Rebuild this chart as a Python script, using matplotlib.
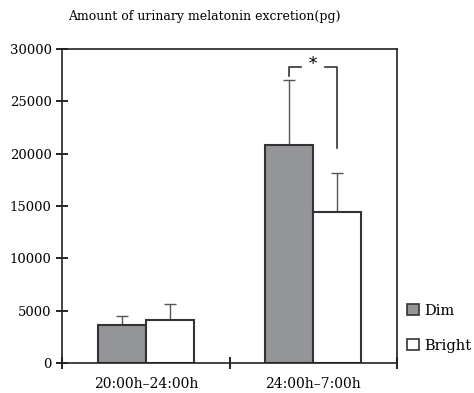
import numpy as np
import matplotlib
matplotlib.use('Agg')
from matplotlib import pyplot as plt
from matplotlib.patches import Patch

plt.rcParams['font.family'] = ['DejaVu Serif']

periods = ['20:00h\u201324:00h', '24:00h\u20137:00h']
dim_mean = [3600, 20800]
dim_err = [900, 6200]
bright_mean = [4150, 14400]
bright_err = [1500, 3800]

grey = '#939598'
edge = '#333333'

fig = plt.figure(figsize=(4.74, 3.93), dpi=100)
ax = fig.add_axes([0.1308, 0.0763, 0.7068, 0.799])

x = np.array([0.5, 1.5])
w = 0.287
ax.bar(x - w/2, dim_mean, w, color=grey, edgecolor=edge, linewidth=1.5, zorder=2)
ax.bar(x + w/2, bright_mean, w, color='white', edgecolor=edge, linewidth=1.5, zorder=2)
ax.errorbar(x - w/2, dim_mean, yerr=[np.zeros(2), dim_err], fmt='none',
            ecolor='#555555', elinewidth=1, capsize=4, capthick=1, zorder=1)
ax.errorbar(x + w/2, bright_mean, yerr=[np.zeros(2), bright_err], fmt='none',
            ecolor='#555555', elinewidth=1, capsize=4, capthick=1, zorder=1)

# significance bracket
bl = x[1] - w/2
br = x[1] + w/2
ax.plot([bl, bl, bl + 0.072], [27400, 28300, 28300], color='#333333', lw=1.2)
ax.plot([br - 0.072, br, br], [28300, 28300, 20550], color='#333333', lw=1.2)
ax.text(x[1], 28500, '*', ha='center', va='center', fontsize=12)

ax.set_xlim(0, 2)
ax.set_ylim(0, 30000)
ax.set_yticks(np.arange(0, 30001, 5000))
ax.set_xticks([0, 1, 2])
ax.set_xticklabels([])
ax.set_xticks(x, minor=True)
ax.set_xticklabels(periods, minor=True)
ax.tick_params(axis='both', which='major', direction='inout', length=8, width=1.2, labelsize=9.5)
ax.tick_params(axis='x', which='minor', length=0, pad=10, labelsize=10)
for s in ax.spines.values():
    s.set_linewidth(1.2)
    s.set_color('#222222')

handles = [Patch(facecolor=grey, edgecolor=edge, linewidth=1.2, label='Dim'),
           Patch(facecolor='white', edgecolor=edge, linewidth=1.2, label='Bright')]
ax.legend(handles=handles, loc='lower left', bbox_to_anchor=(1.0, 0.0), frameon=False,
          handlelength=0.8, handleheight=0.8, handletextpad=0.35, labelspacing=1.45,
          fontsize=10.5, borderaxespad=0.3)

fig.text(0.143, 0.957, 'Amount of urinary melatonin excretion(pg)', fontsize=9, va='center')

fig.savefig('out.png', dpi=100)
plt.close()
